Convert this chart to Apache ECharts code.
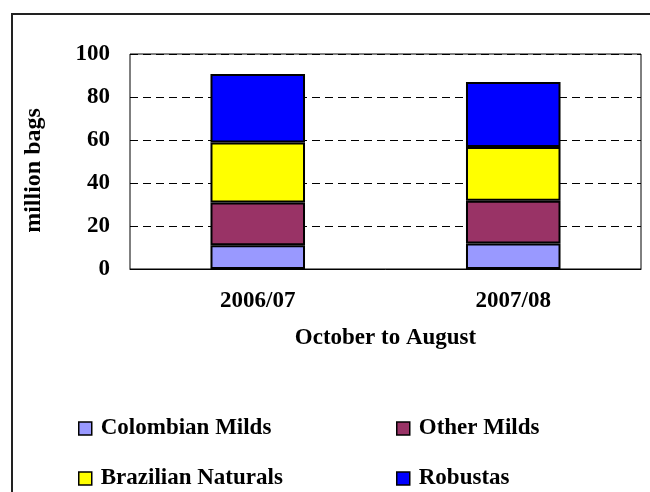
<!DOCTYPE html>
<html>
<head>
<meta charset="utf-8">
<script src="https://cdn.jsdelivr.net/npm/echarts@6/dist/echarts.min.js"></script>
<style>
  html, body { margin: 0; padding: 0; background: #fff; }
  #chart { width: 650px; height: 492px; }
</style>
</head>
<body>
<div id="chart"></div>
<script>
// data (million bags)
const years = ['2006/07', '2007/08'];
const colombianMilds = [11.0, 11.9];
const otherMilds = [19.9, 19.8];
const brazilianNaturals = [27.9, 25.0];
const robustas = [31.9, 30.3];
const yTicks = [0, 20, 40, 60, 80, 100];

const FONT = '"Liberation Serif", "Times New Roman", serif';

const chart = echarts.init(document.getElementById('chart'));

function barSeries(name, data, color) {
  return {
    name: name,
    type: 'bar',
    stack: 'total',
    data: data,
    barWidth: '37%',
    itemStyle: { color: color, borderColor: '#000', borderWidth: 2 },
    emphasis: { disabled: true }
  };
}

// one legend per entry so the 2x2 layout sits where the original has it
function legendAt(name, left, top) {
  return {
    left: left,
    top: top,
    data: [name],
    icon: 'rect',
    itemWidth: 13,
    itemHeight: 13,
    selectedMode: false,
    itemStyle: { borderColor: '#000', borderWidth: 1.5 },
    textStyle: { fontFamily: FONT, fontWeight: 'bold', fontSize: 23, color: '#000', padding: [0, 0, 0, 4] }
  };
}

chart.setOption({
  animation: false,
  backgroundColor: '#fff',
  graphic: [{
    type: 'rect',
    shape: { x: 12, y: 14, width: 700, height: 600 },
    style: { fill: 'none', stroke: '#222', lineWidth: 2 },
    silent: true
  }],
  grid: {
    left: 130, right: 9, top: 54, bottom: 223,
    show: true, borderColor: '#000', borderWidth: 1
  },
  legend: [
    legendAt('Colombian Milds', 73, 412),
    legendAt('Other Milds', 391, 412),
    legendAt('Brazilian Naturals', 73, 462),
    legendAt('Robustas', 391, 462)
  ],
  xAxis: {
    type: 'category',
    data: years,
    name: 'October to August',
    nameLocation: 'middle',
    nameGap: 58,
    nameTextStyle: { fontFamily: FONT, fontWeight: 'bold', fontSize: 23, color: '#000' },
    axisLine: { lineStyle: { color: '#000', width: 1 } },
    axisTick: { show: false },
    axisLabel: { fontFamily: FONT, fontWeight: 'bold', fontSize: 23, color: '#000', margin: 21 }
  },
  yAxis: {
    type: 'value',
    min: yTicks[0],
    max: yTicks[yTicks.length - 1],
    interval: 20,
    name: 'million bags',
    nameLocation: 'middle',
    nameGap: 84,
    nameTextStyle: { fontFamily: FONT, fontWeight: 'bold', fontSize: 24, color: '#000', padding: [0, 18, 0, 0] },
    axisLine: { show: false },
    axisTick: { show: false },
    axisLabel: { fontFamily: FONT, fontWeight: 'bold', fontSize: 23, color: '#000', margin: 20 },
    splitLine: { lineStyle: { color: '#000', type: [8, 5], width: 1 } }
  },
  series: [
    barSeries('Colombian Milds', colombianMilds, '#9999FF'),
    barSeries('Other Milds', otherMilds, '#993366'),
    barSeries('Brazilian Naturals', brazilianNaturals, '#FFFF00'),
    barSeries('Robustas', robustas, '#0000FF')
  ]
});
</script>
</body>
</html>
